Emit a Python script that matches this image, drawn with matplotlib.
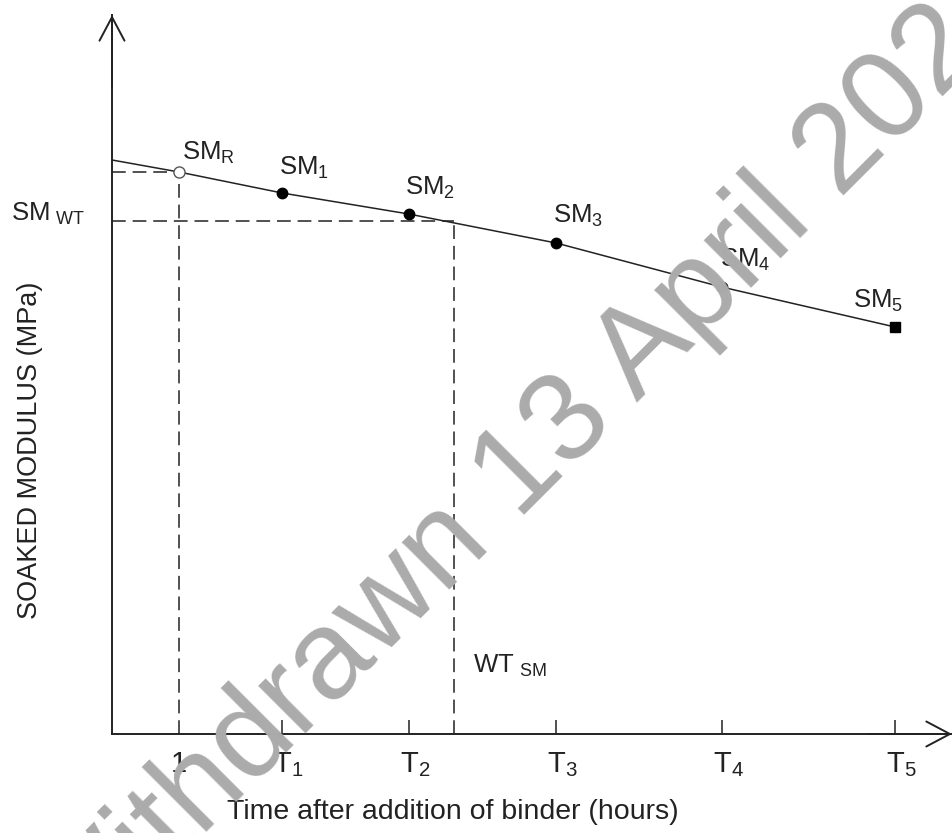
"""Soaked modulus vs time after addition of binder - schematic."""
import matplotlib.pyplot as plt

# === DATA (schematic units) ===
point_names = ['R', '1', '2', '3', '4', '5']
point_time = [1.0, 2.54, 4.43, 6.63, 9.10, 11.69]     # hours
point_sm = [5.62, 5.41, 5.20, 4.91, 4.47, 4.07]        # MPa
line_start_sm = 5.74                                   # trend line at t = 0
tick_labels = ['1', 'T$_\\mathregular{1}$', 'T$_\\mathregular{2}$', 'T$_\\mathregular{3}$',
               'T$_\\mathregular{4}$', 'T$_\\mathregular{5}$']
wt_time = 5.10       # WT_SM
sm_wt = 5.13         # SM_WT
x_max = 12.54
y_max = 7.19

W, H, DPI = 952, 833, 100
PX = 72 / DPI  # pixel -> points
ink = '#222222'
plt.rcParams['font.family'] = ['Liberation Sans', 'DejaVu Sans']
plt.rcParams['mathtext.default'] = 'regular'

fig = plt.figure(figsize=(W / DPI, H / DPI), dpi=DPI)
ax = fig.add_axes([112 / W, 99 / H, 840 / W, 719 / H])
ax.set_xlim(0, x_max)
ax.set_ylim(0, y_max)
for side in ['top', 'right']:
    ax.spines[side].set_visible(False)
for side in ['left', 'bottom']:
    ax.spines[side].set_color(ink)
    ax.spines[side].set_linewidth(1.4)
ax.set_yticks([])
ax.set_xticks(point_time[1:])
ax.tick_params(axis='x', direction='in', length=14 * PX, width=1.1, color=ink, labelbottom=False)

# axis arrow heads
arrow = dict(arrowstyle='->,head_length=0.85,head_width=0.45', mutation_scale=20,
             lw=1.4, color=ink, shrinkA=0, shrinkB=0)
ax.annotate('', xy=(1, 0), xytext=(0.9, 0), xycoords='axes fraction', arrowprops=arrow)
ax.annotate('', xy=(0, 1), xytext=(0, 0.9), xycoords='axes fraction', arrowprops=arrow)

# trend line and points
ax.plot([0] + point_time, [line_start_sm] + point_sm, color=ink, lw=1.1, zorder=3)
ax.plot(point_time[0], point_sm[0], 'o', ms=8, mfc='white', mec='#555555', mew=1.0, zorder=4)
ax.plot(point_time[1:-1], point_sm[1:-1], 'o', ms=7.5, color='black', zorder=4)
ax.plot(point_time[-1], point_sm[-1], 's', ms=6.5, color='black', zorder=4)

# dashed guide lines
dash = dict(color=ink, lw=1.1, linestyle=(0, (9, 4.5)), zorder=2)
ax.plot([0, point_time[0]], [point_sm[0], point_sm[0]], **dash)
ax.plot([point_time[0], point_time[0]], [0, point_sm[0]], **dash)
ax.plot([0, wt_time], [sm_wt, sm_wt], **dash)
ax.plot([wt_time, wt_time], [0, sm_wt], **dash)

# point labels (offsets in px)
label_offsets = [(3, 12), (-3, 18), (-4, 19), (-3, 20), (-2, 20), (-42, 19)]
for name, t, sm, (dx, dy) in zip(point_names, point_time, point_sm, label_offsets):
    ax.annotate('SM$_\\mathregular{%s}$' % name, xy=(t, sm), xytext=(dx * PX, dy * PX),
                textcoords='offset points', ha='left', va='baseline', fontsize=18.5, color=ink)

ax.annotate('SM$_{\\mathregular{\\ WT}}$', xy=(0, sm_wt), xytext=(-27 * PX, 0),
            textcoords='offset points', ha='right', va='baseline', fontsize=18.5, color=ink,
            annotation_clip=False)
ax.annotate('WT$_{\\mathregular{\\ SM}}$', xy=(wt_time, 0), xytext=(19 * PX, 61 * PX),
            textcoords='offset points', ha='left', va='baseline', fontsize=18.5, color=ink)

# x tick labels
for i, (t, lab) in enumerate(zip(point_time, tick_labels)):
    ax.annotate(lab, xy=(t, 0), xytext=((0 if i == 0 else -9) * PX, -38 * PX),
                textcoords='offset points', ha='center' if i == 0 else 'left',
                va='baseline', fontsize=21, color=ink, annotation_clip=False)

fig.text(453 / W, 1 - 819 / H, 'Time after addition of binder (hours)', ha='center',
         va='baseline', fontsize=20.5, color=ink)
fig.text(30 / W, 1 - 450 / H, 'SOAKED MODULUS (MPa)', rotation=90, ha='center',
         va='center', fontsize=19.5, color=ink)

# watermark
fig.text(73 / W, 1 - 967 / H, 'Withdrawn 13 April 2024', rotation=45, rotation_mode='anchor',
         ha='left', va='baseline', fontsize=90.7, color='#ababab',
         family=['Liberation Sans', 'DejaVu Sans'], zorder=10)

fig.savefig('out.png', dpi=DPI)
